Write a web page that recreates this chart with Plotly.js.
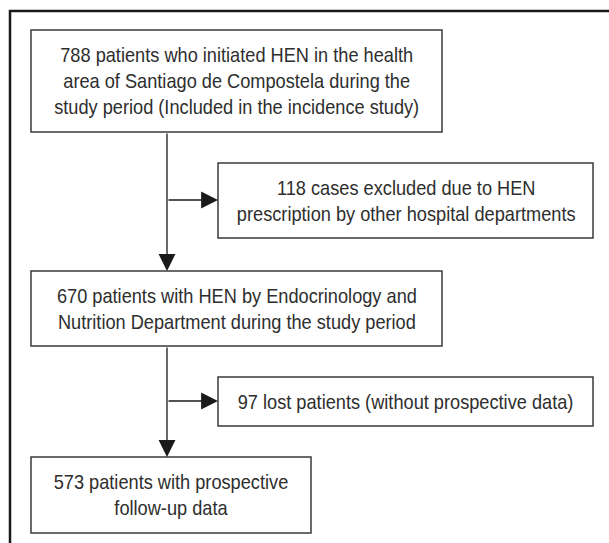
<!DOCTYPE html>
<html>
<head>
<meta charset="utf-8">
<script src="https://cdn.plot.ly/plotly-3.0.1.min.js"></script>
<style>html,body{margin:0;padding:0;background:#fff;}#chart{width:609px;height:543px;}</style>
</head>
<body>
<div id="chart"></div>
<script>
// Flowchart content
var boxTexts = [
  "788 patients who initiated HEN in the health<br>area of Santiago de Compostela during the<br>study period (Included in the incidence study)",
  "118 cases excluded due to HEN<br>prescription by other hospital departments",
  "670 patients with HEN by Endocrinology and<br>Nutrition Department during the study period",
  "97 lost patients (without prospective data)",
  "573 patients with prospective<br>follow-up data"
];
var patientCounts = [788, 118, 670, 97, 573];

// Layout geometry (pixel space), separate from data
var boxes = [
  {x0: 31, y0: 30, x1: 442, y1: 132},
  {x0: 218, y0: 163, x1: 593, y1: 238},
  {x0: 31, y0: 271, x1: 442, y1: 346},
  {x0: 218, y0: 377, x1: 593, y1: 426},
  {x0: 31, y0: 457, x1: 311, y1: 533}
];
var spineX = 167;
var arrows = [
  {x0: spineX, y0: 132, x1: spineX, y1: 271},
  {x0: spineX, y0: 200, x1: 218, y1: 200},
  {x0: spineX, y0: 346, x1: spineX, y1: 457},
  {x0: spineX, y0: 401, x1: 218, y1: 401}
];

var FONT = "'Liberation Sans', Arial, sans-serif";
var ink = "#2e2e2e";
var condense = 0.91;

var shapes = [];
shapes.push({type: 'rect', xref: 'x', yref: 'y', x0: 10, y0: 11, x1: 640, y1: 580,
  line: {color: '#1a1a1a', width: 2.5}, fillcolor: 'rgba(0,0,0,0)', layer: 'below'});
boxes.forEach(function (b) {
  shapes.push({type: 'rect', xref: 'x', yref: 'y', x0: b.x0, y0: b.y0, x1: b.x1, y1: b.y1,
    line: {color: '#3a3a3a', width: 1.5}, fillcolor: 'rgba(0,0,0,0)'});
});

var annotations = [];
boxTexts.forEach(function (t, i) {
  var b = boxes[i];
  annotations.push({
    xref: 'x', yref: 'y', x: (b.x0 + b.x1) / 2, y: (b.y0 + b.y1) / 2,
    text: t, showarrow: false, align: 'center',
    xanchor: 'center', yanchor: 'middle',
    font: {family: FONT, size: 20, color: ink}
  });
});
arrows.forEach(function (a) {
  annotations.push({
    xref: 'x', yref: 'y', axref: 'x', ayref: 'y',
    x: a.x1, y: a.y1, ax: a.x0, ay: a.y0,
    text: '', showarrow: true, arrowhead: 2, arrowsize: 2.6, arrowwidth: 1.3,
    arrowcolor: '#1a1a1a', standoff: 0, startstandoff: 0
  });
});

var layout = {
  width: 609, height: 543,
  margin: {l: 0, r: 0, t: 0, b: 0, pad: 0},
  paper_bgcolor: '#ffffff', plot_bgcolor: '#ffffff',
  xaxis: {range: [0, 609], visible: false, fixedrange: true},
  yaxis: {range: [543, 0], visible: false, fixedrange: true},
  showlegend: false,
  shapes: shapes,
  annotations: annotations
};

Plotly.newPlot('chart', [{x: [], y: [], type: 'scatter', mode: 'markers', hoverinfo: 'skip'}], layout, {displayModeBar: false, staticPlot: true}).then(function (gd) {
  // emulate the condensed typeface of the original by narrowing text horizontally
  gd.querySelectorAll('text.annotation-text').forEach(function (t) {
    if (!t.textContent) return;
    var bb = t.getBBox();
    var cx = bb.x + bb.width / 2;
    t.setAttribute('transform', 'translate(' + cx + ',0) scale(' + condense + ',1) translate(' + (-cx) + ',0)');
  });
});
</script>
</body>
</html>
